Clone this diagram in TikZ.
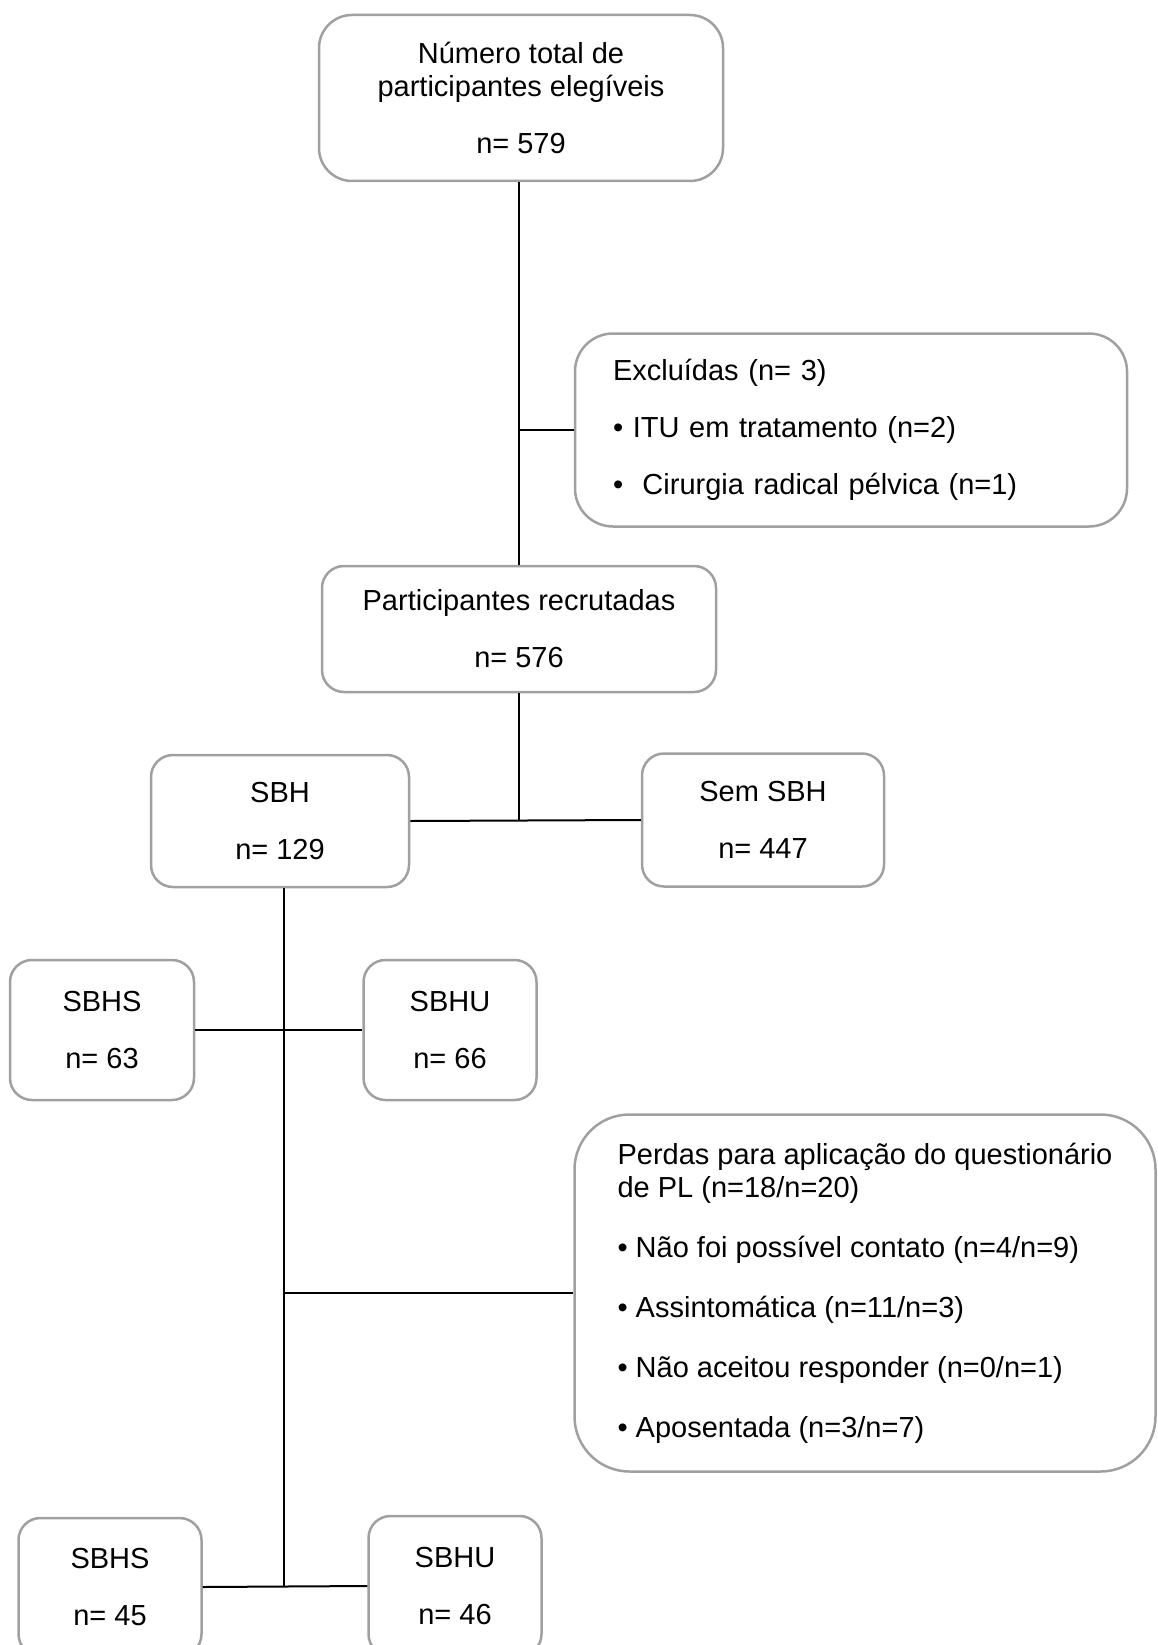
\documentclass[tikz,border=0pt]{standalone}
\usepackage{fontspec}
\setmainfont{Liberation Sans}
\usetikzlibrary{positioning}

\definecolor{boxgray}{RGB}{160,160,160}
\tikzset{
	flowbox/.style = {draw = boxgray, line width = 2.5pt, rounded corners = 22pt, align = center, inner sep = 0pt, font = \fontsize{29}{33}\selectfont},
	listbox/.style = {flowbox, align = left},
	link/.style = {black, line width = 2pt}
}
\newcommand{\gap}{\\[24pt]}
\newcommand{\biggap}{\\[27pt]}

\begin{document}
\begin{tikzpicture}[x = 1pt, y = -1pt]
	\useasboundingbox (0, 0) rectangle (1157, 1645);
	% boxes
	\node [flowbox, minimum width = 404pt, minimum height = 166pt, rounded corners = 33pt] (total) at (521, 98) {Número total de\\participantes elegíveis\gap n= 579};
	\node [listbox, text width = 476pt, inner xsep = 38pt, minimum height = 193pt, rounded corners = 38pt] (excl) at (851, 430) {Excluídas (n= 3)\gap • ITU em tratamento (n=2)\gap •\ \ Cirurgia radical pélvica (n=1)};
	\node [flowbox, minimum width = 394pt, minimum height = 126pt] (recruit) at (519, 629) {Participantes recrutadas\gap n= 576};
	\node [flowbox, minimum width = 258pt, minimum height = 132pt] (sbh) at (280, 821) {SBH\gap n= 129};
	\node [flowbox, minimum width = 242pt, minimum height = 133pt] (semsbh) at (763, 820) {Sem SBH\gap n= 447};
	\node [flowbox, minimum width = 184pt, minimum height = 140pt] (sbhs1) at (102, 1030) {SBHS\gap n= 63};
	\node [flowbox, minimum width = 173pt, minimum height = 140pt] (sbhu1) at (450, 1030) {SBHU\gap n= 66};
	\node [listbox, minimum width = 581pt, minimum height = 357pt, rounded corners = 55pt] (perdas) at (865, 1293) {Perdas para aplicação do questionário\\de PL (n=18/n=20)\biggap • Não foi possível contato (n=4/n=9)\biggap • Assintomática (n=11/n=3)\biggap • Não aceitou responder (n=0/n=1)\biggap • Aposentada (n=3/n=7)};
	\node [flowbox, minimum width = 183pt, minimum height = 138pt] (sbhs2) at (110, 1587) {SBHS\gap n= 45};
	\node [flowbox, minimum width = 173pt, minimum height = 140pt] (sbhu2) at (455, 1586) {SBHU\gap n= 46};
	\coordinate (trunk) at ([xshift = 4pt] sbh.south);
	% connectors
	\draw [link] (recruit.north) -- (recruit.north |- total.south);
	\draw [link] (excl.west) -- (excl.west -| recruit.north);
	\draw [link] (recruit.south) -- (recruit.south |- sbh.east);
	\draw [link] (sbh.east) -- (semsbh.west);
	\draw [link] (trunk) -- (trunk |- sbhs2.east);
	\draw [link] (sbhs1.east) -- (sbhu1.west);
	\draw [link] (perdas.west) -- (perdas.west -| trunk);
	\draw [link] (sbhs2.east) -- (sbhu2.west);
\end{tikzpicture}
\end{document}
